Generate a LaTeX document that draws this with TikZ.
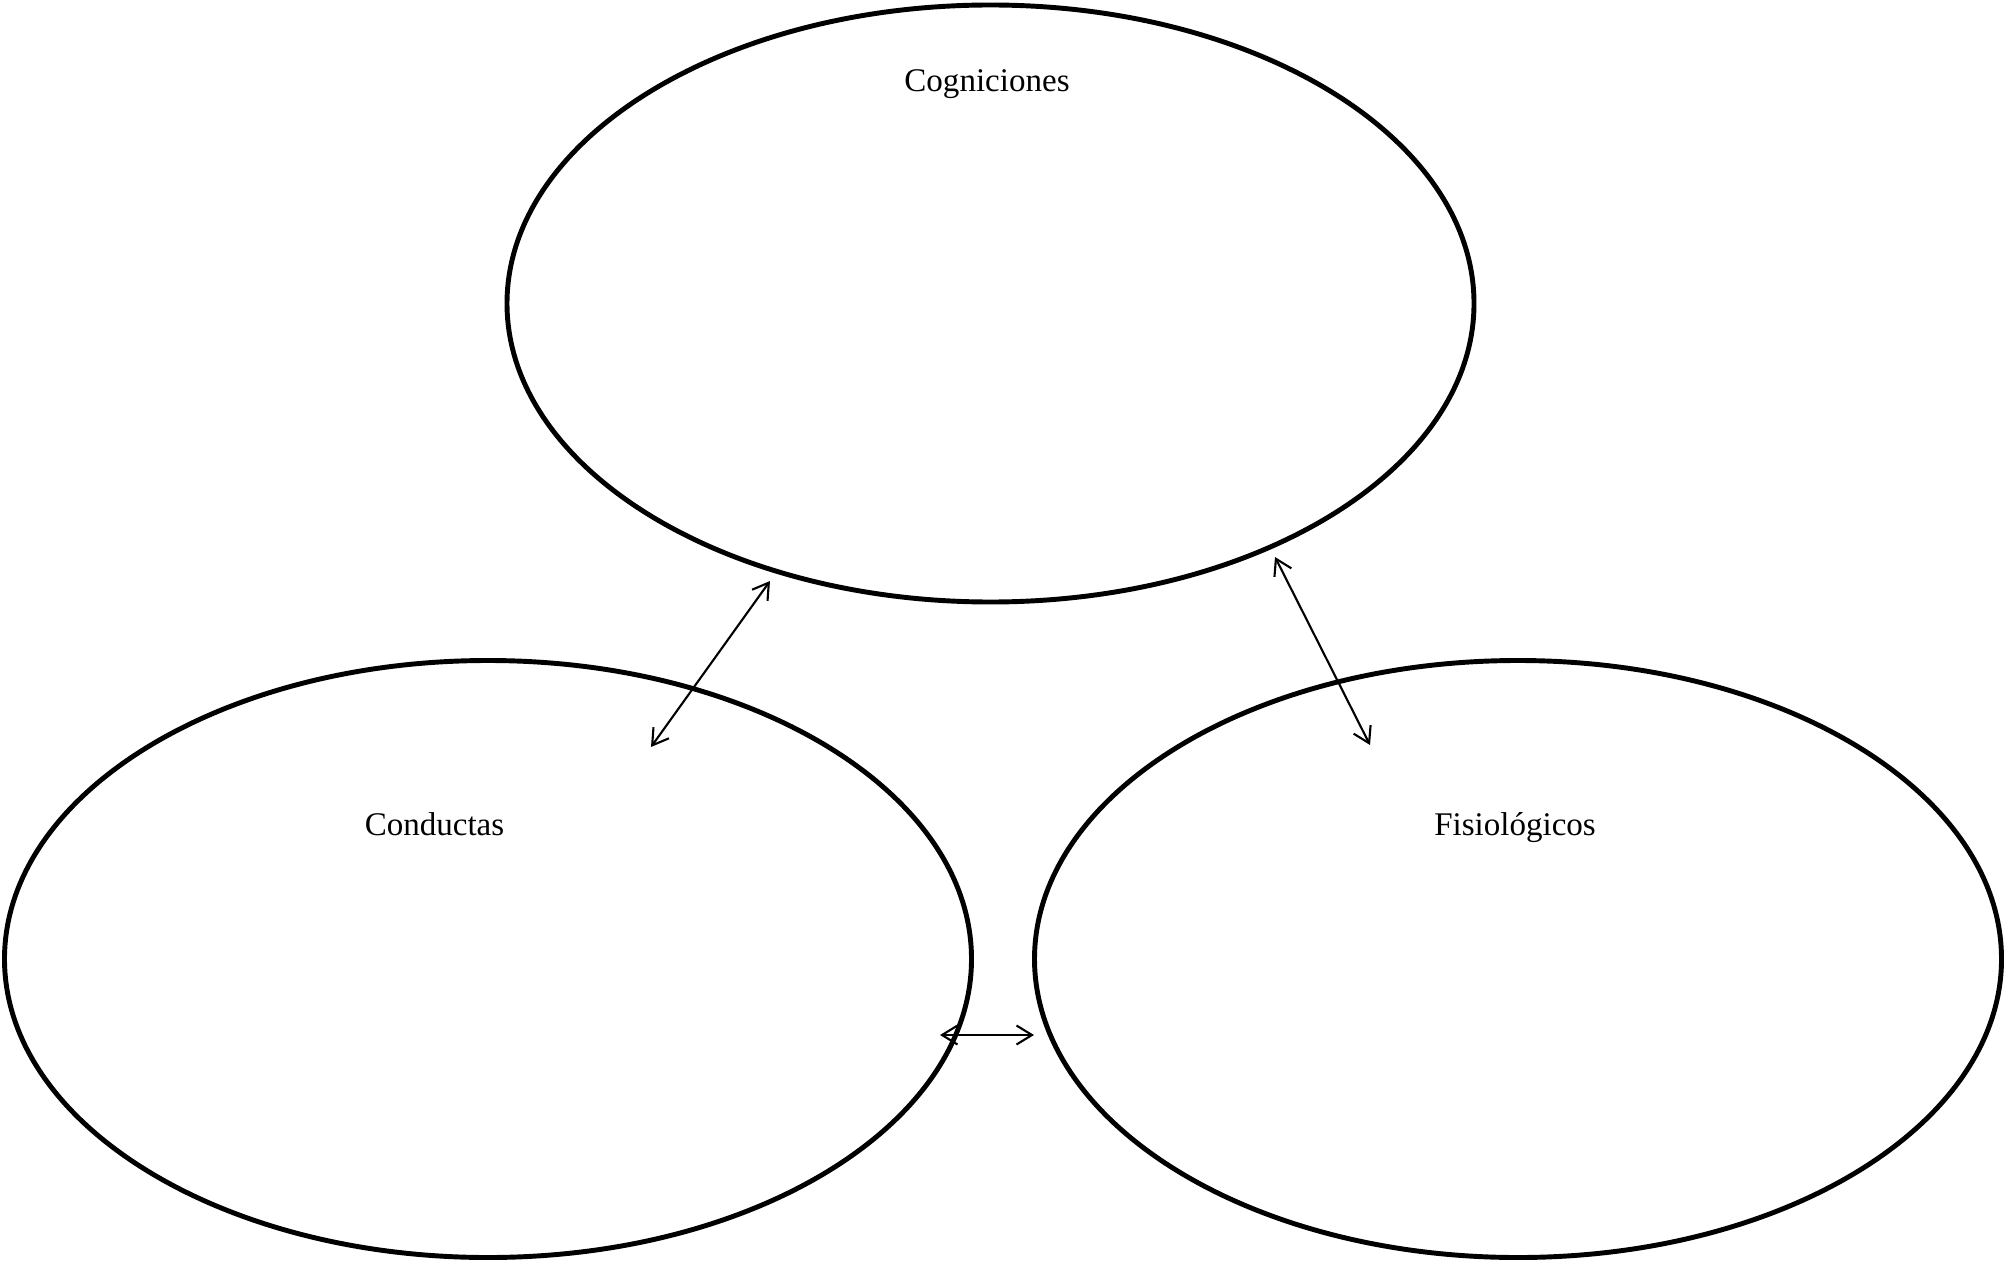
\documentclass[tikz,border=0pt]{standalone}
\usepackage{fontspec}
\setmainfont{Liberation Serif}
\usetikzlibrary{arrows.meta, shapes.geometric}

\begin{document}
\begin{tikzpicture}[
  x=1cm, y=1cm,
  bubble/.style={draw, ellipse, line width=1.4pt, minimum width=9.67cm, minimum height=5.97cm, inner sep=0pt},
  tag/.style={anchor=base, font=\fontsize{9.4pt}{11pt}\selectfont},
  arr/.style={{Straight Barb[length=1.55mm, width=1.9mm]}-{Straight Barb[length=1.55mm, width=1.9mm]}, line width=0.6pt}
]
  \useasboundingbox (0,0) rectangle (20.07,-12.62);

  \node[bubble] (cog) at (9.905,-3.035) {};
  \node[bubble] (cond) at (4.88,-9.59) {};
  \node[bubble] (fis) at (15.18,-9.59) {};

  \node[tag] (cogtxt) at (9.87,-0.92) {Cogniciones};
  \node[tag] (condtxt) at (4.345,-8.35) {Conductas};
  \node[tag] (fistxt) at (15.15,-8.35) {Fisiológicos};

  % arrow ends
  \coordinate (cl1) at (7.70,-5.81);
  \coordinate (cl2) at (6.51,-7.47);
  \coordinate (cr1) at (12.75,-5.57);
  \coordinate (cr2) at (13.70,-7.45);
  \coordinate (b1) at (9.40,-10.35);
  \coordinate (b2) at (10.34,-10.35);

  \draw[arr] (cl1) -- (cl2);
  \draw[arr] (cr1) -- (cr2);
  \draw[arr] (b1) -- (b2);
\end{tikzpicture}
\end{document}
